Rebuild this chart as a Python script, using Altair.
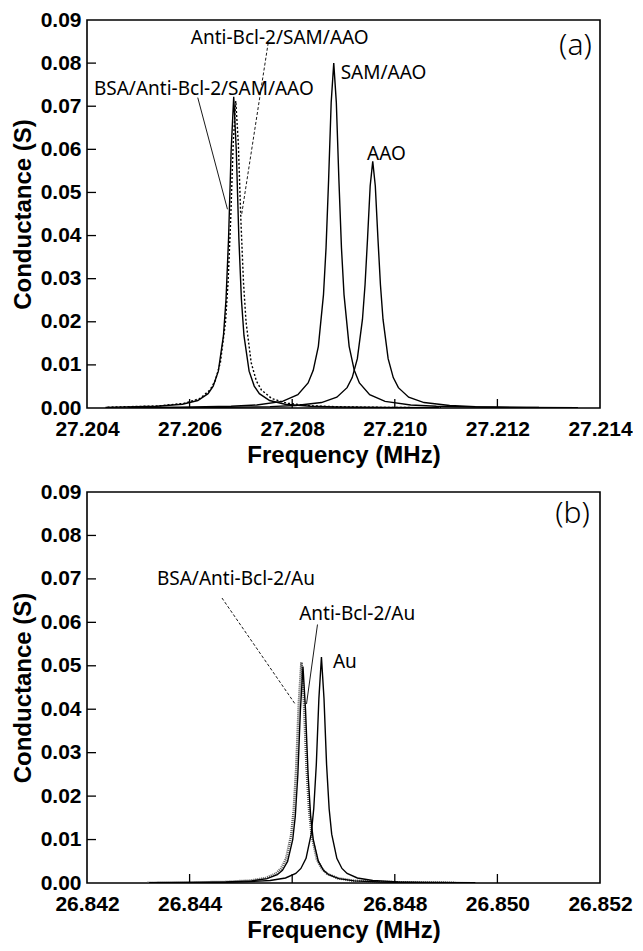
import altair as alt
import pandas as pd

# ---------------- Panel (a) data ----------------
a_bsa_f = [27.20436, 27.20536, 27.20586, 27.20616, 27.20636, 27.20646, 27.20656, 27.20666,
           27.20671, 27.20676, 27.20681, 27.20686, 27.20691, 27.20696, 27.20701, 27.20706,
           27.20716, 27.20726, 27.20736, 27.20756, 27.20786, 27.20836, 27.20886, 27.20986, 27.21086]
a_bsa_g = [0.00014, 0.00039, 0.00086, 0.00174, 0.00333, 0.00508, 0.00855, 0.01677,
           0.0252, 0.0395, 0.0598, 0.0722, 0.0598, 0.0395, 0.0252, 0.01677,
           0.00855, 0.00508, 0.00333, 0.00174, 0.00086, 0.00039, 0.00022, 0.0001, 0.00005]

a_anti_f = [27.20440, 27.20540, 27.20590, 27.20620, 27.20640, 27.20650, 27.20660, 27.20670,
            27.20675, 27.20680, 27.20685, 27.20690, 27.20695, 27.20700, 27.20705, 27.20710,
            27.20720, 27.20730, 27.20740, 27.20760, 27.20790, 27.20840, 27.20890, 27.20990, 27.21090]
a_anti_g = [0.00018, 0.00049, 0.0011, 0.0022, 0.00419, 0.00633, 0.01053, 0.0200,
            0.0292, 0.0434, 0.0614, 0.0712, 0.0614, 0.0434, 0.0292, 0.0200,
            0.01053, 0.00633, 0.00419, 0.0022, 0.0011, 0.00049, 0.00028, 0.00012, 0.00007]

a_sam_f = [27.20481, 27.20581, 27.20681, 27.20731, 27.20781, 27.20811, 27.20831, 27.20841,
           27.20851, 27.20861, 27.20866, 27.20871, 27.20876, 27.20881, 27.20886, 27.20891,
           27.20896, 27.20901, 27.20911, 27.20921, 27.20931, 27.20951, 27.20981, 27.21031,
           27.21081, 27.21181, 27.21281]
a_sam_g = [0.0001, 0.00017, 0.00039, 0.00069, 0.00154, 0.00308, 0.00581, 0.00873,
           0.0143, 0.0263, 0.0372, 0.0530, 0.0709, 0.0800, 0.0709, 0.0530,
           0.0372, 0.0263, 0.0143, 0.00873, 0.00581, 0.00308, 0.00154, 0.00069,
           0.00039, 0.00017, 0.0001]

a_aao_f = [27.20557, 27.20657, 27.20757, 27.20807, 27.20857, 27.20887, 27.20907, 27.20917,
           27.20927, 27.20937, 27.20942, 27.20947, 27.20952, 27.20957, 27.20962, 27.20967,
           27.20972, 27.20977, 27.20987, 27.20997, 27.21007, 27.21027, 27.21057, 27.21107,
           27.21157, 27.21257, 27.21357]
a_aao_g = [0.00008, 0.00014, 0.00032, 0.00057, 0.00126, 0.00251, 0.00472, 0.00705,
           0.01144, 0.0206, 0.0286, 0.0396, 0.0515, 0.0572, 0.0515, 0.0396,
           0.0286, 0.0206, 0.01144, 0.00705, 0.00472, 0.00251, 0.00126, 0.00057,
           0.00032, 0.00014, 0.00008]

a_xticks = [27.204, 27.206, 27.208, 27.210, 27.212, 27.214]
a_label_text = ["Anti-Bcl-2/SAM/AAO", "BSA/Anti-Bcl-2/SAM/AAO", "SAM/AAO", "AAO"]
a_label_f = [27.206024, 27.204135, 27.208944, 27.209460]
a_label_g = [0.0859, 0.0741, 0.0777, 0.0589]
a_lead_f = [27.207532, 27.206159]
a_lead_g = [0.0847, 0.0720]
a_lead_f2 = [27.207016, 27.206738]
a_lead_g2 = [0.0450, 0.0461]
a_lead_dotted = [True, False]
a_tag = "(a)"
a_tag_f = 27.213841
a_tag_g = 0.0840

# ---------------- Panel (b) data ----------------
b_bsa_f = [26.84318, 26.84418, 26.84468, 26.84518, 26.84548, 26.84568, 26.84578, 26.84588,
           26.84598, 26.84603, 26.84608, 26.84613, 26.84618, 26.84623, 26.84628, 26.84633,
           26.84638, 26.84648, 26.84658, 26.84668, 26.84688, 26.84718, 26.84768, 26.84818, 26.84918]
b_bsa_g = [0.00006, 0.00014, 0.00025, 0.00055, 0.00112, 0.00215, 0.00328, 0.00554,
           0.01098, 0.01670, 0.02664, 0.0414, 0.0508, 0.0414, 0.02664, 0.01670,
           0.01098, 0.00554, 0.00328, 0.00215, 0.00112, 0.00055, 0.00025, 0.00014, 0.00006]

b_anti_f = [26.84321, 26.84421, 26.84471, 26.84521, 26.84551, 26.84571, 26.84581, 26.84591,
            26.84601, 26.84606, 26.84611, 26.84616, 26.84621, 26.84626, 26.84631, 26.84636,
            26.84641, 26.84651, 26.84661, 26.84671, 26.84691, 26.84721, 26.84771, 26.84821, 26.84921]
b_anti_g = [0.00006, 0.00012, 0.00022, 0.00049, 0.00100, 0.00192, 0.00293, 0.00498,
            0.00996, 0.01532, 0.0249, 0.0398, 0.0498, 0.0398, 0.0249, 0.01532,
            0.00996, 0.00498, 0.00293, 0.00192, 0.00100, 0.00049, 0.00022, 0.00012, 0.00006]

b_au_f = [26.84357, 26.84457, 26.84507, 26.84557, 26.84587, 26.84607, 26.84617, 26.84627,
          26.84637, 26.84642, 26.84647, 26.84652, 26.84657, 26.84662, 26.84667, 26.84672,
          26.84677, 26.84687, 26.84697, 26.84707, 26.84727, 26.84757, 26.84807, 26.84857, 26.84957]
b_au_g = [0.00006, 0.00014, 0.00025, 0.00057, 0.00115, 0.00220, 0.00335, 0.00567,
          0.01124, 0.01710, 0.02727, 0.0424, 0.0520, 0.0424, 0.02727, 0.01710,
          0.01124, 0.00567, 0.00335, 0.00220, 0.00115, 0.00057, 0.00025, 0.00014, 0.00006]

b_xticks = [26.842, 26.844, 26.846, 26.848, 26.850, 26.852]
b_label_text = ["BSA/Anti-Bcl-2/Au", "Anti-Bcl-2/Au", "Au"]
b_label_f = [26.843363, 26.846136, 26.846794]
b_label_g = [0.0700, 0.0620, 0.0508]
b_lead_f = [26.844631, 26.846493]
b_lead_g = [0.0656, 0.0595]
b_lead_f2 = [26.846057, 26.846279]
b_lead_g2 = [0.0412, 0.0412]
b_lead_dotted = [True, False]
b_tag = "(b)"
b_tag_f = 26.851802
b_tag_g = 0.0850

yticks = [0.00, 0.01, 0.02, 0.03, 0.04, 0.05, 0.06, 0.07, 0.08, 0.09]
inner_yticks = [0.01, 0.02, 0.03, 0.04, 0.05, 0.06, 0.07, 0.08]

AXFONT = "Liberation Sans, Arial, sans-serif"
ANNOT = "Noto Sans, Open Sans, sans-serif"


def panel(curves, xdom, xticks, lab_t, lab_f, lab_g, ld_f, ld_g, ld_f2, ld_g2, ld_dot,
          tag, tag_f, tag_g, w, h):
    xs = alt.Scale(domain=xdom, nice=False, zero=False)
    ys = alt.Scale(domain=[0, 0.09], nice=False, zero=False)
    xax = alt.Axis(values=xticks, format=".3f", title="Frequency (MHz)")
    yax = alt.Axis(values=yticks, format=".2f", title="Conductance (S)")

    def X():
        return alt.X("f:Q", scale=xs, axis=xax)

    def Y():
        return alt.Y("g:Q", scale=ys, axis=yax)

    layers = []
    for xs_, ys_, style in curves:
        df = pd.DataFrame({"f": xs_, "g": ys_})
        if style == "solid":
            mk = alt.Chart(df).mark_line(color="black", strokeWidth=1.4, clip=True)
        elif style == "dot":
            mk = alt.Chart(df).mark_line(color="black", strokeWidth=1.4, strokeDash=[2, 2], clip=True)
        else:
            mk = alt.Chart(df).mark_line(color="#555555", strokeWidth=2.6, strokeDash=[1, 1], clip=True)
        layers.append(mk.encode(x=X(), y=Y()))

    # inward ticks
    xt = pd.DataFrame({"f": xticks[1:-1]})
    layers.append(alt.Chart(xt).mark_rule(color="black", strokeWidth=1.3).encode(
        x=X(), y=alt.value(h), y2=alt.value(h - 9)))
    yt = pd.DataFrame({"g": inner_yticks})
    layers.append(alt.Chart(yt).mark_rule(color="black", strokeWidth=1.3).encode(
        y=Y(), x=alt.value(0), x2=alt.value(9)))

    # leader lines
    ld = pd.DataFrame({"f": ld_f, "g": ld_g, "f2": ld_f2, "g2": ld_g2, "d": ld_dot})
    for dotted in (True, False):
        sub = ld[ld["d"] == dotted]
        if dotted:
            mk = alt.Chart(sub).mark_rule(color="black", strokeWidth=0.9, strokeDash=[3, 2])
        else:
            mk = alt.Chart(sub).mark_rule(color="black", strokeWidth=0.9)
        layers.append(mk.encode(x=X(), x2="f2:Q", y=Y(), y2="g2:Q"))

    # labels
    lb = pd.DataFrame({"f": lab_f, "g": lab_g, "t": lab_t})
    layers.append(alt.Chart(lb).mark_text(align="left", baseline="middle", font=ANNOT,
                                          fontSize=19, color="black").encode(
        x=X(), y=Y(), text="t:N"))
    tg = pd.DataFrame({"f": [tag_f], "g": [tag_g], "t": [tag]})
    layers.append(alt.Chart(tg).mark_text(align="right", baseline="middle", font=ANNOT,
                                          fontSize=30, fontWeight=300, color="black").encode(
        x=X(), y=Y(), text="t:N"))

    return alt.layer(*layers).properties(width=w, height=h)


top = panel([(a_bsa_f, a_bsa_g, "solid"), (a_anti_f, a_anti_g, "dot"),
             (a_sam_f, a_sam_g, "solid"), (a_aao_f, a_aao_g, "solid")],
            [27.204, 27.214], a_xticks, a_label_text, a_label_f, a_label_g,
            a_lead_f, a_lead_g, a_lead_f2, a_lead_g2, a_lead_dotted,
            a_tag, a_tag_f, a_tag_g, 513, 388)

bottom = panel([(b_bsa_f, b_bsa_g, "thickdot"), (b_anti_f, b_anti_g, "solid"),
                (b_au_f, b_au_g, "solid")],
               [26.842, 26.852], b_xticks, b_label_text, b_label_f, b_label_g,
               b_lead_f, b_lead_g, b_lead_f2, b_lead_g2, b_lead_dotted,
               b_tag, b_tag_f, b_tag_g, 513, 391)

chart = alt.vconcat(top, bottom, spacing=12).properties(
    padding={"left": 2, "top": 0, "right": 0, "bottom": 0}
).configure_view(stroke="black", strokeWidth=1.6).configure_axis(
    grid=False, domain=False, ticks=False, tickSize=0,
    labelFont=AXFONT, labelFontSize=21, labelFontWeight="bold", labelColor="black",
    titleFont=AXFONT, titleFontSize=24, titleFontWeight="bold", titleColor="black",
    labelOverlap=False, labelFlush=False,
).configure_axisX(labelPadding=10, titlePadding=4).configure_axisY(
    labelPadding=6, titlePadding=5)

chart.save("out.html", embed_options={"renderer": "svg", "actions": False})
